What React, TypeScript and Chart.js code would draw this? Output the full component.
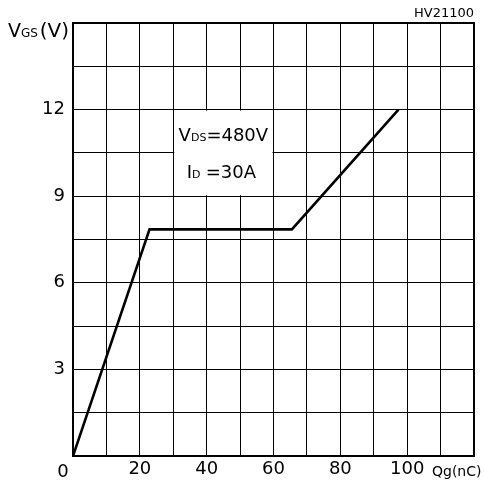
import { useEffect, useRef } from 'react';
import { Chart, registerables } from 'chart.js';

Chart.register(...registerables);

// Gate charge curve data (Qg in nC, VGS in V)
const chargeQg = [0, 22.9, 65.5, 97.4];
const gateVgs = [0, 7.85, 7.85, 12];

// Axis tick labels
const xTickLabels = [0, 20, 40, 60, 80, 100];
const yTickLabels = [3, 6, 9, 12];

const FONT = '"DejaVu Sans", Verdana, sans-serif';

type Run = { t: string; s: number };

function runsWidth(ctx: CanvasRenderingContext2D, runs: Run[]) {
  let w = 0;
  for (const r of runs) {
    ctx.font = `${r.s}px ${FONT}`;
    w += ctx.measureText(r.t).width;
  }
  return w;
}

function drawRuns(ctx: CanvasRenderingContext2D, runs: Run[], x: number, y: number) {
  let cx = x;
  ctx.textAlign = 'left';
  for (const r of runs) {
    ctx.font = `${r.s}px ${FONT}`;
    ctx.fillText(r.t, cx, y);
    cx += ctx.measureText(r.t).width;
  }
}

const textPlugin = {
  id: 'gateText',
  beforeDatasetsDraw(chart: any) {
    const ctx: CanvasRenderingContext2D = chart.ctx;
    const xs = chart.scales.x;
    const ys = chart.scales.y;
    // white annotation box covering grid cells (30..60 nC, 9..12 V)
    const l = xs.getPixelForValue(30);
    const r = xs.getPixelForValue(60);
    const t = ys.getPixelForValue(12);
    const b = ys.getPixelForValue(9);
    ctx.save();
    ctx.fillStyle = '#fff';
    ctx.fillRect(l + 1, t + 1, r - l - 2, b - t - 2);
    ctx.fillStyle = '#000';
    ctx.textBaseline = 'alphabetic';
    const cx = (l + r) / 2;
    const line1: Run[] = [{ t: 'V', s: 18 }, { t: 'DS', s: 11 }, { t: '=480V', s: 18 }];
    const line2: Run[] = [{ t: 'I', s: 18 }, { t: 'D', s: 11 }, { t: ' ', s: 16 }, { t: '=30A', s: 18 }];
    drawRuns(ctx, line1, cx - runsWidth(ctx, line1) / 2, t + 31);
    drawRuns(ctx, line2, cx - runsWidth(ctx, line2) / 2 - 2, t + 68);
    ctx.restore();
  },
  afterDraw(chart: any) {
    const ctx: CanvasRenderingContext2D = chart.ctx;
    const a = chart.chartArea;
    const xs = chart.scales.x;
    ctx.save();
    ctx.strokeStyle = '#000';
    ctx.lineWidth = 2;
    ctx.strokeRect(a.left, a.top, a.right - a.left, a.bottom - a.top);
    ctx.fillStyle = '#000';
    ctx.textBaseline = 'alphabetic';
    // y-axis title
    drawRuns(ctx, [{ t: 'V', s: 19 }, { t: 'GS', s: 12 }, { t: ' ', s: 6 }, { t: '(V)', s: 20 }], 8, 37);
    // code at top right
    ctx.font = `13px ${FONT}`;
    ctx.textAlign = 'right';
    ctx.fillText('HV21100', a.right, 17);
    // origin label
    ctx.textAlign = 'center';
    ctx.font = `18px ${FONT}`;
    ctx.fillText('0', xs.getPixelForValue(0) - 10, 477);
    // x-axis title
    ctx.textAlign = 'left';
    ctx.font = `14px ${FONT}`;
    ctx.fillText('Qg(nC)', 432, 476);
    ctx.restore();
  },
};

export default function App() {
  const ref = useRef<HTMLCanvasElement | null>(null);
  useEffect(() => {
    if (!ref.current) return;
    const chart = new Chart(ref.current, {
      type: 'line',
      data: {
        datasets: [
          {
            data: chargeQg.map((q, i) => ({ x: q, y: gateVgs[i] })),
            borderColor: '#000',
            borderWidth: 2.6,
            pointRadius: 0,
            tension: 0,
            fill: false,
          },
        ],
      },
      options: {
        responsive: false,
        animation: false,
        events: [],
        layout: { padding: { top: 23, right: 10, left: 0, bottom: 0 } },
        plugins: { legend: { display: false }, tooltip: { enabled: false } },
        scales: {
          x: {
            type: 'linear',
            min: 0,
            max: 120,
            afterFit(scale: any) {
              scale.height = 27;
            },
            ticks: {
              stepSize: 10,
              autoSkip: false,
              maxRotation: 0,
              padding: 3,
              color: '#000',
              font: { family: FONT, size: 18 },
              callback: (v: any) => {
                const n = Math.round(Number(v));
                return n !== 0 && xTickLabels.includes(n) ? String(n) : '';
              },
            },
            grid: { color: '#000', lineWidth: 1, drawTicks: false },
            border: { color: '#000', width: 2 },
          },
          y: {
            type: 'linear',
            min: 0,
            max: 15,
            afterFit(scale: any) {
              scale.width = 73;
            },
            ticks: {
              stepSize: 1.5,
              autoSkip: false,
              padding: 8,
              color: '#000',
              font: { family: FONT, size: 18 },
              callback: (v: any) => {
                const n = Math.round(Number(v) * 10) / 10;
                return yTickLabels.includes(n) ? String(n) : '';
              },
            },
            grid: { color: '#000', lineWidth: 1, drawTicks: false },
            border: { color: '#000', width: 2 },
          },
        },
      },
      plugins: [textPlugin],
    });
    return () => chart.destroy();
  }, []);
  return (
    <div style={{ position: 'absolute', left: 0, top: 0, width: 484, height: 483, background: '#fff' }}>
      <canvas ref={ref} width={484} height={483} style={{ display: 'block' }} />
    </div>
  );
}
